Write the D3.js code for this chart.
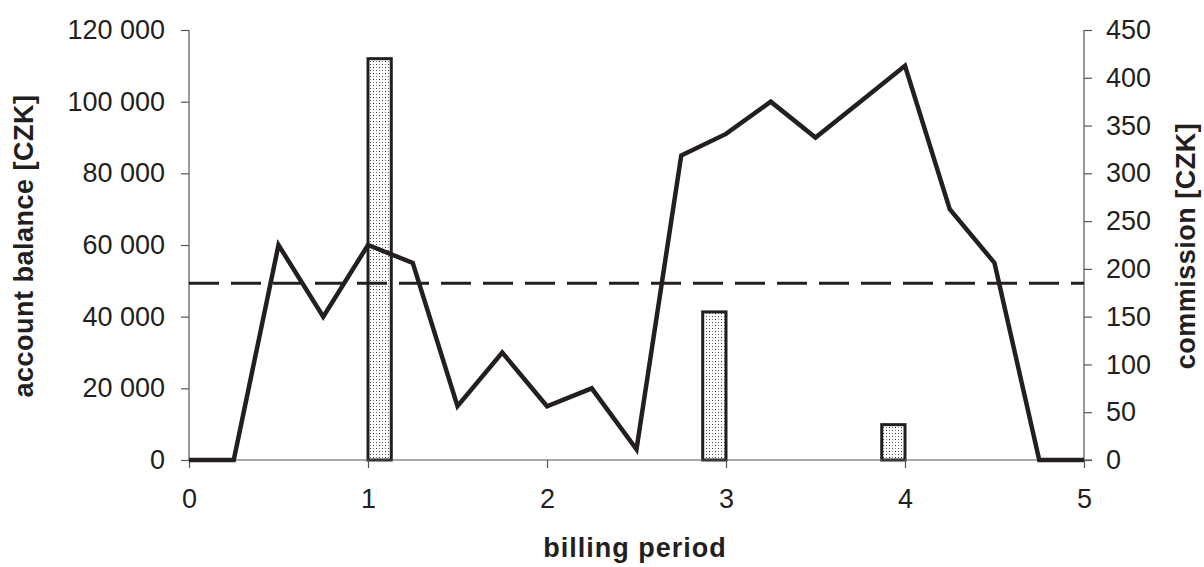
<!DOCTYPE html>
<html><head><meta charset="utf-8">
<script src="https://cdn.jsdelivr.net/npm/d3@7"></script>
<style>
html,body{margin:0;padding:0;background:#fff;}
svg text{font-family:"Liberation Sans",Arial,sans-serif;fill:#231f20;}
</style></head>
<body><svg id="c" width="1204" height="567"></svg>
<script>
// ---- data ----
const periods = [0,0.25,0.5,0.75,1,1.25,1.5,1.75,2,2.25,2.5,2.75,3,3.25,3.5,3.75,4,4.25,4.5,4.75,5];
const balance = [0,0,60000,40000,60000,55000,15000,30000,15000,20000,3000,85000,91000,100000,90000,100000,110000,70000,55000,0,0];
const commissionStart = [1.0, 2.87, 3.87];
const commissionEnd = [1.13, 3.0, 4.0];
const commission = [420, 155, 37];
const limitBalance = 49300;
const xTicks = [0,1,2,3,4,5];
const leftTicks = [0,20000,40000,60000,80000,100000,120000];
const rightTicks = [0,50,100,150,200,250,300,350,400,450];

const svg = d3.select("#c");
const x = d3.scaleLinear().domain([0,5]).range([189,1084]);
const yL = d3.scaleLinear().domain([0,120000]).range([460,30]);
const yR = d3.scaleLinear().domain([0,450]).range([460,30]);
const fmt = v => d3.format(",")(v).replace(/,/g," ");
const axisColor = "#555";
const FS = 27;

// pattern
const defs = svg.append("defs");
const pat = defs.append("pattern").attr("id","dots").attr("patternUnits","userSpaceOnUse")
  .attr("width",6).attr("height",6);
pat.append("rect").attr("width",6).attr("height",6).attr("fill","#fff");
pat.append("rect").attr("x",1).attr("y",1).attr("width",1).attr("height",1).attr("fill","#222");
pat.append("rect").attr("x",4).attr("y",4).attr("width",1).attr("height",1).attr("fill","#444");
pat.append("rect").attr("x",1).attr("y",4).attr("width",1).attr("height",1).attr("fill","#888");
pat.append("rect").attr("x",4).attr("y",1).attr("width",1).attr("height",1).attr("fill","#888");

// bars
svg.append("g").selectAll("rect").data(commission).join("rect")
  .attr("x",(d,i)=>x(commissionStart[i]))
  .attr("width",(d,i)=>x(commissionEnd[i])-x(commissionStart[i]))
  .attr("y",d=>yR(d)).attr("height",d=>yR(0)-yR(d))
  .attr("fill","url(#dots)").attr("stroke","#231f20").attr("stroke-width",3);

// axes
const gL = svg.append("g").attr("transform","translate(189,0)")
  .call(d3.axisLeft(yL).tickValues(leftTicks).tickFormat(fmt).tickSize(8).tickPadding(16));
const gR = svg.append("g").attr("transform","translate(1084,0)")
  .call(d3.axisRight(yR).tickValues(rightTicks).tickSize(8).tickPadding(14));
const gB = svg.append("g").attr("transform","translate(0,460)")
  .call(d3.axisBottom(x).tickValues(xTicks).tickFormat(d3.format("d")).tickSize(8).tickPadding(14));
[gL,gR,gB].forEach(g=>{
  g.select(".domain").attr("stroke",axisColor).attr("stroke-width",1.2);
  g.selectAll(".tick line").attr("stroke",axisColor).attr("stroke-width",1.2);
  g.selectAll(".tick text").attr("font-size",FS).attr("font-family","Liberation Sans, Arial, sans-serif").attr("fill","#231f20");
});
gB.select(".domain").attr("d","M189,0H1092");
gL.select(".domain").attr("d","M0,30V460");
gR.select(".domain").attr("d","M0,30V460");
gB.selectAll(".tick text").attr("y",48).attr("dy",0);

// dashed line
svg.append("line").attr("x1",x(0)).attr("x2",x(5))
  .attr("y1",yL(limitBalance)).attr("y2",yL(limitBalance))
  .attr("stroke","#231f20").attr("stroke-width",3).attr("stroke-dasharray","30,12");

// balance line
svg.append("path").datum(periods.map((p,i)=>[p,balance[i]]))
  .attr("fill","none").attr("stroke","#231f20").attr("stroke-width",4.5)
  .attr("stroke-linejoin","miter")
  .attr("d",d3.line().x(d=>x(d[0])).y(d=>yL(d[1])));

// axis titles
svg.append("text").attr("transform","translate(33,246) rotate(-90)")
  .attr("text-anchor","middle").attr("font-weight","bold").attr("font-size",FS)
  .attr("letter-spacing","0.5px")
  .text("account balance [CZK]");
svg.append("text").attr("transform","translate(1195,246) rotate(-90)")
  .attr("text-anchor","middle").attr("font-weight","bold").attr("font-size",FS)
  .attr("letter-spacing","0.5px")
  .text("commission [CZK]");
svg.append("text").attr("x",635).attr("y",557)
  .attr("text-anchor","middle").attr("font-weight","bold").attr("font-size",FS)
  .attr("letter-spacing","1px")
  .text("billing period");
</script></body></html>
